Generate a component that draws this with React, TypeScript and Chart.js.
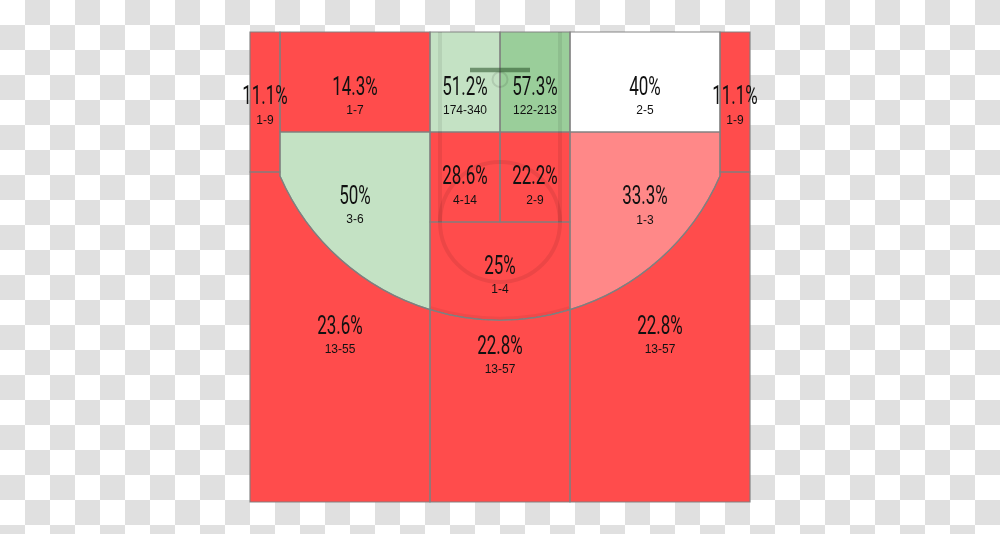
import React, { useEffect, useRef } from "react";
import { Chart, registerables } from "chart.js";

Chart.register(...registerables);

// ---- Data ----
const zoneNames = [
  "Left Corner 3",
  "Left Baseline Mid",
  "Restricted Area Left",
  "Restricted Area Right",
  "Right Baseline Mid",
  "Right Corner 3",
  "Left Wing Mid",
  "Paint Left",
  "Paint Right",
  "Right Wing Mid",
  "Top of Key Mid",
  "Left Wing 3",
  "Center 3",
  "Right Wing 3",
];
const makes = [1, 1, 174, 122, 2, 1, 3, 4, 2, 1, 1, 13, 13, 13];
const attempts = [9, 7, 340, 213, 5, 9, 6, 14, 9, 3, 4, 55, 57, 57];

// ---- Styles / geometry (court feet: x 0..50, y 0..47 from baseline) ----
const RED = "rgb(255,76,76)";
const PINK = "rgb(255,136,136)";
const WHITE = "rgb(255,255,255)";
const LGREEN = "rgb(196,226,196)";
const MGREEN = "rgb(154,206,154)";
const zoneColors = [RED, RED, LGREEN, MGREEN, WHITE, RED, LGREEN, RED, RED, PINK, RED, RED, RED, RED];
const zoneShapes = [
  "cornerL", "midL", "raL", "raR", "midR", "cornerR",
  "wingL", "paintL", "paintR", "wingR", "key", "threeL", "threeC", "threeR",
];
const labelX = [1.5, 10.5, 21.5, 28.5, 39.5, 48.5, 10.5, 21.5, 28.5, 39.5, 25, 9, 25, 41];
const labelY = [6.35, 5.4, 5.4, 5.4, 5.4, 6.35, 16.3, 14.33, 14.33, 16.35, 23.3, 29.27, 31.27, 29.27];

const ARC_R = 24;
const ARC_CX = 25;
const ARC_CY = 4.8;
const arcY = (x: number) => ARC_CY + Math.sqrt(ARC_R * ARC_R - (x - ARC_CX) * (x - ARC_CX));

const fmtPct = (m: number, a: number) => `${Math.round((m / a) * 1000) / 10}%`;

const courtPlugin = {
  id: "court",
  beforeDatasetsDraw(chart: any) {
    const { ctx, scales } = chart;
    const X = (v: number) => scales.x.getPixelForValue(v);
    const Y = (v: number) => scales.y.getPixelForValue(v);
    const cx = X(ARC_CX);
    const cy = Y(ARC_CY);
    const r = X(ARC_R) - X(0);
    const ang = (x: number) => Math.atan2(Y(arcY(x)) - cy, X(x) - cx);
    const arcBetween = (x0: number, x1: number) => {
      const a0 = ang(x0);
      const a1 = ang(x1);
      ctx.arc(cx, cy, r, a0, a1, a1 < a0);
    };
    const rect = (x0: number, y0: number, x1: number, y1: number) => {
      ctx.moveTo(X(x0), Y(y0));
      ctx.lineTo(X(x1), Y(y0));
      ctx.lineTo(X(x1), Y(y1));
      ctx.lineTo(X(x0), Y(y1));
      ctx.closePath();
    };
    const path = (shape: string) => {
      ctx.beginPath();
      switch (shape) {
        case "cornerL": rect(0, 0, 3, 14); break;
        case "cornerR": rect(47, 0, 50, 14); break;
        case "midL": rect(3, 0, 18, 10); break;
        case "midR": rect(32, 0, 47, 10); break;
        case "raL": rect(18, 0, 25, 10); break;
        case "raR": rect(25, 0, 32, 10); break;
        case "paintL": rect(18, 10, 25, 19); break;
        case "paintR": rect(25, 10, 32, 19); break;
        case "wingL":
          ctx.moveTo(X(3), Y(10));
          ctx.lineTo(X(18), Y(10));
          ctx.lineTo(X(18), Y(arcY(18)));
          arcBetween(18, 3);
          ctx.closePath();
          break;
        case "wingR":
          ctx.moveTo(X(32), Y(10));
          ctx.lineTo(X(47), Y(10));
          ctx.lineTo(X(47), Y(arcY(47)));
          arcBetween(47, 32);
          ctx.closePath();
          break;
        case "key":
          ctx.moveTo(X(18), Y(19));
          ctx.lineTo(X(32), Y(19));
          ctx.lineTo(X(32), Y(arcY(32)));
          arcBetween(32, 18);
          ctx.closePath();
          break;
        case "threeL":
          ctx.moveTo(X(0), Y(14));
          ctx.lineTo(X(3), Y(14));
          ctx.lineTo(X(3), Y(arcY(3)));
          arcBetween(3, 18);
          ctx.lineTo(X(18), Y(47));
          ctx.lineTo(X(0), Y(47));
          ctx.closePath();
          break;
        case "threeC":
          ctx.moveTo(X(18), Y(arcY(18)));
          arcBetween(18, 32);
          ctx.lineTo(X(32), Y(47));
          ctx.lineTo(X(18), Y(47));
          ctx.closePath();
          break;
        case "threeR":
          ctx.moveTo(X(32), Y(arcY(32)));
          arcBetween(32, 47);
          ctx.lineTo(X(47), Y(14));
          ctx.lineTo(X(50), Y(14));
          ctx.lineTo(X(50), Y(47));
          ctx.lineTo(X(32), Y(47));
          ctx.closePath();
          break;
      }
    };
    ctx.save();
    zoneShapes.forEach((s, i) => {
      path(s);
      ctx.fillStyle = zoneColors[i];
      ctx.fill();
    });
    ctx.strokeStyle = "rgba(128,128,128,0.95)";
    ctx.lineWidth = 1.2;
    zoneShapes.forEach((s) => {
      path(s);
      ctx.stroke();
    });

    // Court markings (translucent)
    ctx.strokeStyle = "rgba(0,0,0,0.075)";
    ctx.lineWidth = 4;
    [19, 31].forEach((lx) => {
      ctx.beginPath();
      ctx.moveTo(X(lx), Y(0));
      ctx.lineTo(X(lx), Y(19));
      ctx.stroke();
    });
    ctx.beginPath();
    ctx.arc(X(25), Y(19), X(6) - X(0), 0, Math.PI * 2);
    ctx.stroke();
    ctx.strokeStyle = "rgba(0,0,0,0.05)";
    ctx.lineWidth = 3;
    ctx.beginPath();
    ctx.arc(cx, cy, r - 2, ang(18), ang(32), true);
    ctx.stroke();

    // rim
    ctx.strokeStyle = "rgba(0,0,0,0.1)";
    ctx.lineWidth = 2;
    ctx.beginPath();
    ctx.arc(X(25), Y(4.75), X(0.75) - X(0), 0, Math.PI * 2);
    ctx.stroke();
    // backboard
    ctx.strokeStyle = "rgba(40,80,40,0.55)";
    ctx.lineWidth = 4.5;
    ctx.beginPath();
    ctx.moveTo(X(22), Y(3.8));
    ctx.lineTo(X(28), Y(3.8));
    ctx.stroke();
    ctx.restore();
  },
  afterDatasetsDraw(chart: any) {
    const { ctx } = chart;
    const meta = chart.getDatasetMeta(0);
    ctx.save();
    ctx.fillStyle = "#111";
    ctx.textAlign = "center";
    ctx.textBaseline = "alphabetic";
    meta.data.forEach((pt: any, i: number) => {
      const x = pt.x;
      const y = pt.y;
      ctx.save();
      ctx.translate(x, y + 8.8);
      ctx.scale(0.68, 1);
      ctx.font = '400 25px Roboto, "Liberation Sans", sans-serif';
      ctx.fillText(fmtPct(makes[i], attempts[i]), 0, 0);
      ctx.restore();
      ctx.font = '12px "Liberation Sans", Arial, sans-serif';
      ctx.fillText(`${makes[i]}-${attempts[i]}`, x, y + 28.4);
    });
    ctx.restore();
  },
};

export default function App() {
  const ref = useRef<HTMLCanvasElement | null>(null);
  useEffect(() => {
    if (!ref.current) return;
    const chart = new Chart(ref.current, {
      type: "scatter",
      data: {
        datasets: [
          {
            label: "Shot zones",
            data: zoneNames.map((_, i) => ({ x: labelX[i], y: labelY[i] })),
            pointRadius: 0,
            pointHoverRadius: 0,
          },
        ],
      },
      options: {
        responsive: false,
        maintainAspectRatio: false,
        animation: false,
        events: [],
        layout: { padding: { left: 250, right: 250, top: 32, bottom: 32 } },
        scales: {
          x: { type: "linear", min: 0, max: 50, display: false },
          y: { type: "linear", min: 0, max: 47, reverse: true, display: false },
        },
        plugins: { legend: { display: false }, tooltip: { enabled: false } },
      },
      plugins: [courtPlugin],
    });
    return () => chart.destroy();
  }, []);
  return (
    <div
      style={{
        position: "fixed",
        left: 0,
        top: 0,
        width: 1000,
        height: 534,
        background:
          "conic-gradient(#e0e0e0 0 25%, #ffffff 0 50%, #e0e0e0 0 75%, #ffffff 0) 0 0 / 50px 50px",
      }}
    >
      <canvas ref={ref} width={1000} height={534} style={{ display: "block" }} />
    </div>
  );
}
